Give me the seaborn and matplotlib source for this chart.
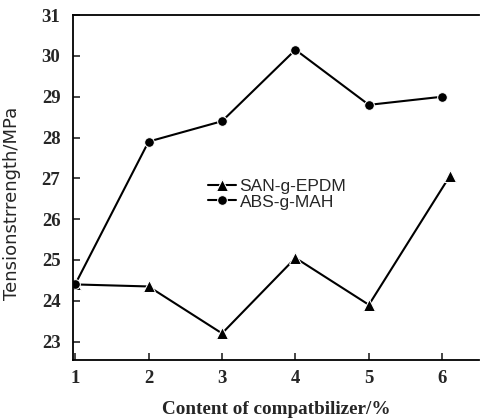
import matplotlib
matplotlib.use("Agg")
import matplotlib.pyplot as plt
import seaborn as sns

# ── Data ──────────────────────────────────────────────────────────────────────
x_abs = [1, 2, 3, 4, 5, 6]
abs_g_mah = [24.4, 27.9, 28.4, 30.15, 28.8, 29.0]
x_san = [1, 2, 3, 4, 5, 6.1]
san_g_epdm = [24.4, 24.35, 23.2, 25.05, 23.9, 27.05]
x_ticks = [1, 2, 3, 4, 5, 6]
y_ticks = [23, 24, 25, 26, 27, 28, 29, 30, 31]

sns.set_style("ticks")
plt.rcParams["font.family"] = ["Liberation Serif", "DejaVu Serif"]

fig = plt.figure(figsize=(4.8, 4.19), dpi=100)
ax = fig.add_axes([0.152, 0.141, 0.846, 0.823])

sns.lineplot(x=x_san, y=san_g_epdm, ax=ax, color="black", lw=1.5,
             marker="^", markersize=8, label="SAN-g-EPDM")
sns.lineplot(x=x_abs, y=abs_g_mah, ax=ax, color="black", lw=1.5,
             marker="o", markersize=7, label="ABS-g-MAH")

ax.set_xlim(0.97, 6.5)
ax.set_ylim(22.55, 31)
ax.set_xticks(x_ticks)
ax.set_yticks(y_ticks)
ax.tick_params(direction="in", length=5, width=1.2, labelsize=13.5)
ax.tick_params(axis="y", pad=9)
ax.tick_params(axis="x", pad=7)
for lbl in ax.get_xticklabels() + ax.get_yticklabels():
    lbl.set_fontweight("bold")
for s in ax.spines.values():
    s.set_linewidth(1.3)
    s.set_color("black")
ax.spines["right"].set_visible(False)

ax.set_xlabel("Content of compatbilizer/%", fontsize=13.8, fontweight="bold",
              labelpad=10)
ax.set_ylabel("Tensionstrrength/MPa", fontsize=13, family="DejaVu Sans")
ax.yaxis.set_label_coords(-0.128, 0.455)

ax.legend(loc="center left", bbox_to_anchor=(0.312, 0.48), frameon=False,
          prop={"family": "Liberation Sans", "size": 12.5}, handlelength=1.6,
          handletextpad=0.2, labelspacing=0.0, borderpad=0)

fig.savefig("out.png", dpi=100)
